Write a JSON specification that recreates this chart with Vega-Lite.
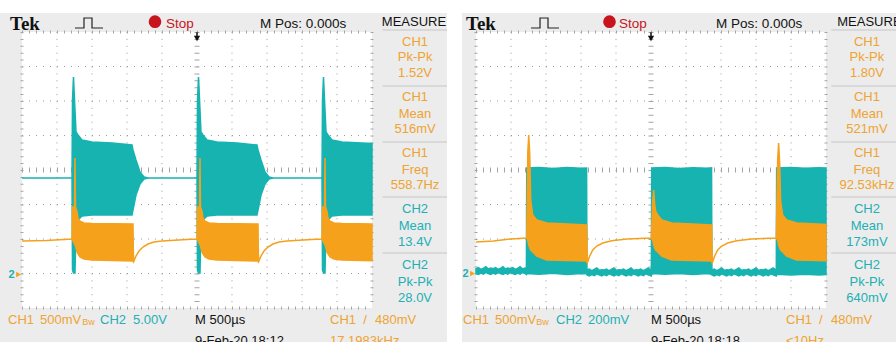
{
"$schema":"https://vega.github.io/schema/vega-lite/v6.json",
"width":896,"height":342,"padding":0,
"autosize":{"type":"fit","contains":"padding"},
"background":"#ffffff",
"config":{"view":{"stroke":null},"text":{"font":"Liberation Sans, Arial, sans-serif"}},
"datasets":{
"A":[
{"kind":"bg","x":-0.629,"x2":12.143,"y":4.551,"y2":-5.2},
{"kind":"plot","x":0,"x2":10,"y":4,"y2":-4},
{"kind":"vg","x":1,"y":4,"y2":-4},{"kind":"vg","x":2,"y":4,"y2":-4},{"kind":"vg","x":3,"y":4,"y2":-4},{"kind":"vg","x":4,"y":4,"y2":-4},{"kind":"vg","x":6,"y":4,"y2":-4},{"kind":"vg","x":7,"y":4,"y2":-4},{"kind":"vg","x":8,"y":4,"y2":-4},{"kind":"vg","x":9,"y":4,"y2":-4},
{"kind":"hg","x":0,"x2":10,"y":-3},{"kind":"hg","x":0,"x2":10,"y":-2},{"kind":"hg","x":0,"x2":10,"y":-1},{"kind":"hg","x":0,"x2":10,"y":1},{"kind":"hg","x":0,"x2":10,"y":2},{"kind":"hg","x":0,"x2":10,"y":3},
{"kind":"vc","x":5,"y":4,"y2":-4},{"kind":"hc","x":0,"x2":10,"y":0},
{"kind":"vb","x":0,"y":4,"y2":-4},{"kind":"vb","x":10,"y":4,"y2":-4},{"kind":"hb","x":0,"x2":10,"y":4},{"kind":"hb","x":0,"x2":10,"y":-4},
{"kind":"c2","x":0,"y":-0.232,"y2":-0.232},
{"kind":"c2","x":1.429,"y":-0.232,"y2":-0.232},
{"kind":"c2","x":1.443,"y":2.029,"y2":-2.899},
{"kind":"c2","x":1.471,"y":2.696,"y2":-2.986},
{"kind":"c2","x":1.514,"y":1.739,"y2":-2.986},
{"kind":"c2","x":1.543,"y":1.101,"y2":-1.594},
{"kind":"c2","x":1.6,"y":1.014,"y2":-1.449},
{"kind":"c2","x":1.714,"y":0.87,"y2":-1.333},
{"kind":"c2","x":2.0,"y":0.812,"y2":-1.304},
{"kind":"c2","x":2.571,"y":0.783,"y2":-1.304},
{"kind":"c2","x":3.143,"y":0.725,"y2":-1.304},
{"kind":"c2","x":3.171,"y":0.58,"y2":-1.159},
{"kind":"c2","x":3.257,"y":0.29,"y2":-0.725},
{"kind":"c2","x":3.371,"y":-0.058,"y2":-0.406},
{"kind":"c2","x":3.486,"y":-0.203,"y2":-0.261},
{"kind":"c2","x":3.6,"y":-0.232,"y2":-0.232},
{"kind":"c2","x":5.0,"y":-0.232,"y2":-0.232},
{"kind":"c2","x":5.014,"y":2.029,"y2":-2.899},
{"kind":"c2","x":5.043,"y":2.696,"y2":-2.986},
{"kind":"c2","x":5.086,"y":1.739,"y2":-2.986},
{"kind":"c2","x":5.114,"y":1.101,"y2":-1.594},
{"kind":"c2","x":5.171,"y":1.014,"y2":-1.449},
{"kind":"c2","x":5.286,"y":0.87,"y2":-1.333},
{"kind":"c2","x":5.571,"y":0.812,"y2":-1.304},
{"kind":"c2","x":6.143,"y":0.783,"y2":-1.304},
{"kind":"c2","x":6.714,"y":0.725,"y2":-1.304},
{"kind":"c2","x":6.743,"y":0.58,"y2":-1.159},
{"kind":"c2","x":6.829,"y":0.29,"y2":-0.725},
{"kind":"c2","x":6.943,"y":-0.058,"y2":-0.406},
{"kind":"c2","x":7.057,"y":-0.203,"y2":-0.261},
{"kind":"c2","x":7.171,"y":-0.232,"y2":-0.232},
{"kind":"c2","x":8.571,"y":-0.232,"y2":-0.232},
{"kind":"c2","x":8.586,"y":2.029,"y2":-2.899},
{"kind":"c2","x":8.614,"y":2.696,"y2":-2.986},
{"kind":"c2","x":8.657,"y":1.739,"y2":-2.986},
{"kind":"c2","x":8.686,"y":1.101,"y2":-1.594},
{"kind":"c2","x":8.743,"y":1.014,"y2":-1.449},
{"kind":"c2","x":8.857,"y":0.87,"y2":-1.333},
{"kind":"c2","x":9.143,"y":0.812,"y2":-1.304},
{"kind":"c2","x":9.714,"y":0.783,"y2":-1.304},
{"kind":"c2","x":10.0,"y":0.77,"y2":-1.304},
{"kind":"c1","x":0,"y":-2.058,"y2":-2.058},
{"kind":"c1","x":0.7,"y":-2.04,"y2":-2.04},
{"kind":"c1","x":1.429,"y":-2.0,"y2":-2.0},
{"kind":"c1","x":1.443,"y":-1.072,"y2":-2.029},
{"kind":"c1","x":1.5,"y":-1.072,"y2":-2.145},
{"kind":"c1","x":1.514,"y":0.348,"y2":-2.174},
{"kind":"c1","x":1.529,"y":-1.072,"y2":-2.2},
{"kind":"c1","x":1.571,"y":-1.2,"y2":-2.377},
{"kind":"c1","x":1.6,"y":-1.391,"y2":-2.43},
{"kind":"c1","x":1.657,"y":-1.48,"y2":-2.522},
{"kind":"c1","x":1.771,"y":-1.536,"y2":-2.58},
{"kind":"c1","x":2.0,"y":-1.55,"y2":-2.609},
{"kind":"c1","x":3.171,"y":-1.565,"y2":-2.638},
{"kind":"c1","x":3.186,"y":-2.638,"y2":-2.667},
{"kind":"c1","x":3.257,"y":-2.493,"y2":-2.493},
{"kind":"c1","x":3.343,"y":-2.348,"y2":-2.348},
{"kind":"c1","x":3.457,"y":-2.232,"y2":-2.232},
{"kind":"c1","x":3.6,"y":-2.145,"y2":-2.145},
{"kind":"c1","x":3.771,"y":-2.087,"y2":-2.087},
{"kind":"c1","x":4.0,"y":-2.058,"y2":-2.058},
{"kind":"c1","x":4.829,"y":-2.01,"y2":-2.01},
{"kind":"c1","x":5.0,"y":-2.0,"y2":-2.0},
{"kind":"c1","x":5.014,"y":-1.072,"y2":-2.029},
{"kind":"c1","x":5.071,"y":-1.072,"y2":-2.145},
{"kind":"c1","x":5.086,"y":0.348,"y2":-2.174},
{"kind":"c1","x":5.1,"y":-1.072,"y2":-2.2},
{"kind":"c1","x":5.143,"y":-1.2,"y2":-2.377},
{"kind":"c1","x":5.171,"y":-1.391,"y2":-2.43},
{"kind":"c1","x":5.229,"y":-1.48,"y2":-2.522},
{"kind":"c1","x":5.343,"y":-1.536,"y2":-2.58},
{"kind":"c1","x":5.571,"y":-1.55,"y2":-2.609},
{"kind":"c1","x":6.743,"y":-1.565,"y2":-2.638},
{"kind":"c1","x":6.757,"y":-2.638,"y2":-2.667},
{"kind":"c1","x":6.829,"y":-2.493,"y2":-2.493},
{"kind":"c1","x":6.914,"y":-2.348,"y2":-2.348},
{"kind":"c1","x":7.029,"y":-2.232,"y2":-2.232},
{"kind":"c1","x":7.171,"y":-2.145,"y2":-2.145},
{"kind":"c1","x":7.343,"y":-2.087,"y2":-2.087},
{"kind":"c1","x":7.571,"y":-2.058,"y2":-2.058},
{"kind":"c1","x":8.4,"y":-2.01,"y2":-2.01},
{"kind":"c1","x":8.571,"y":-2.0,"y2":-2.0},
{"kind":"c1","x":8.586,"y":-1.072,"y2":-2.029},
{"kind":"c1","x":8.643,"y":-1.072,"y2":-2.145},
{"kind":"c1","x":8.657,"y":0.348,"y2":-2.174},
{"kind":"c1","x":8.671,"y":-1.072,"y2":-2.2},
{"kind":"c1","x":8.714,"y":-1.2,"y2":-2.377},
{"kind":"c1","x":8.743,"y":-1.391,"y2":-2.43},
{"kind":"c1","x":8.8,"y":-1.48,"y2":-2.522},
{"kind":"c1","x":8.914,"y":-1.536,"y2":-2.58},
{"kind":"c1","x":9.143,"y":-1.55,"y2":-2.609},
{"kind":"c1","x":10.0,"y":-1.562,"y2":-2.63},
{"kind":"sep","x":10.3,"x2":12.143,"y":4.058},
{"kind":"sep","x":10.3,"x2":12.143,"y":2.435},
{"kind":"sep","x":10.3,"x2":12.143,"y":0.812},
{"kind":"sep","x":10.3,"x2":12.143,"y":-0.783},
{"kind":"sep","x":10.3,"x2":12.143,"y":-2.406},
{"kind":"icon","i":0,"x":1.514,"y":4.116},
{"kind":"icon","i":1,"x":1.771,"y":4.116},
{"kind":"icon","i":2,"x":1.771,"y":4.406},
{"kind":"icon","i":3,"x":2.0,"y":4.406},
{"kind":"icon","i":4,"x":2.0,"y":4.116},
{"kind":"icon","i":5,"x":2.314,"y":4.116},
{"kind":"dot","x":3.8,"y":4.299},
{"kind":"trig","x":5,"y":3.99,"y2":3.85},
{"kind":"trigh","x":5,"y":3.81},
{"kind":"lvl","x":9.93,"y":-2.06},
{"kind":"gnd1","x":-0.1,"y":-3.029},
{"kind":"gnd2","x":-0.3,"y":-3.029,"t":"2"},
{"kind":"tek","x":-0.343,"y":4.072,"t":"Tek"},
{"kind":"hdr","x":4.114,"y":4.116,"t":"Stop","ch":"stop"},
{"kind":"hdr","x":6.8,"y":4.116,"t":"M Pos: 0.000s","ch":"sys"},
{"kind":"meas","x":11.2,"y":4.304,"t":"MEASURE","ch":"sys"},
{"kind":"meas","x":11.23,"y":3.71,"t":"CH1","ch":"CH1"},
{"kind":"meas","x":11.23,"y":3.275,"t":"Pk-Pk","ch":"CH1"},
{"kind":"meas","x":11.23,"y":2.812,"t":"1.52V","ch":"CH1"},
{"kind":"meas","x":11.23,"y":2.116,"t":"CH1","ch":"CH1"},
{"kind":"meas","x":11.23,"y":1.623,"t":"Mean","ch":"CH1"},
{"kind":"meas","x":11.23,"y":1.188,"t":"516mV","ch":"CH1"},
{"kind":"meas","x":11.23,"y":0.493,"t":"CH1","ch":"CH1"},
{"kind":"meas","x":11.23,"y":0.0,"t":"Freq","ch":"CH1"},
{"kind":"meas","x":11.23,"y":-0.435,"t":"558.7Hz","ch":"CH1"},
{"kind":"meas","x":11.23,"y":-1.13,"t":"CH2","ch":"CH2"},
{"kind":"meas","x":11.23,"y":-1.623,"t":"Mean","ch":"CH2"},
{"kind":"meas","x":11.23,"y":-2.087,"t":"13.4V","ch":"CH2"},
{"kind":"meas","x":11.23,"y":-2.754,"t":"CH2","ch":"CH2"},
{"kind":"meas","x":11.23,"y":-3.246,"t":"Pk-Pk","ch":"CH2"},
{"kind":"meas","x":11.23,"y":-3.71,"t":"28.0V","ch":"CH2"},
{"kind":"ftr","x":-0.4,"y":-4.464,"t":"CH1","ch":"CH1"},
{"kind":"ftr","x":0.514,"y":-4.464,"t":"500mV","ch":"CH1"},
{"kind":"ftr","x":2.229,"y":-4.464,"t":"CH2","ch":"CH2"},
{"kind":"ftr","x":3.171,"y":-4.464,"t":"5.00V","ch":"CH2"},
{"kind":"ftr","x":4.943,"y":-4.464,"t":"M 500µs","ch":"sys"},
{"kind":"ftr","x":4.943,"y":-5.072,"t":"9-Feb-20 18:12","ch":"sys"},
{"kind":"ftr","x":8.8,"y":-4.464,"t":"CH1","ch":"CH1"},
{"kind":"ftr","x":9.75,"y":-4.464,"t":"/","ch":"CH1"},
{"kind":"ftr","x":10.086,"y":-4.464,"t":"480mV","ch":"CH1"},
{"kind":"ftr","x":8.8,"y":-5.072,"t":"17.1983kHz","ch":"CH1"},
{"kind":"small","x":1.72,"y":-4.5,"t":"Bw","ch":"CH1"}
],
"B":[
{"kind":"bg","x":-0.4,"x2":12.6,"y":4.551,"y2":-5.2},
{"kind":"plot","x":0,"x2":10,"y":4,"y2":-4},
{"kind":"vg","x":1,"y":4,"y2":-4},{"kind":"vg","x":2,"y":4,"y2":-4},{"kind":"vg","x":3,"y":4,"y2":-4},{"kind":"vg","x":4,"y":4,"y2":-4},{"kind":"vg","x":6,"y":4,"y2":-4},{"kind":"vg","x":7,"y":4,"y2":-4},{"kind":"vg","x":8,"y":4,"y2":-4},{"kind":"vg","x":9,"y":4,"y2":-4},
{"kind":"hg","x":0,"x2":10,"y":-3},{"kind":"hg","x":0,"x2":10,"y":-2},{"kind":"hg","x":0,"x2":10,"y":-1},{"kind":"hg","x":0,"x2":10,"y":1},{"kind":"hg","x":0,"x2":10,"y":2},{"kind":"hg","x":0,"x2":10,"y":3},
{"kind":"vc","x":5,"y":4,"y2":-4},{"kind":"hc","x":0,"x2":10,"y":0},
{"kind":"vb","x":0,"y":4,"y2":-4},{"kind":"vb","x":10,"y":4,"y2":-4},{"kind":"hb","x":0,"x2":10,"y":4},{"kind":"hb","x":0,"x2":10,"y":-4},
{"kind":"c2","x":0,"y":-2.86,"y2":-3.0},
{"kind":"c2","x":0.07,"y":-2.83,"y2":-3.03},
{"kind":"c2","x":0.14,"y":-2.88,"y2":-2.99},
{"kind":"c2","x":0.21,"y":-2.85,"y2":-3.02},
{"kind":"c2","x":0.28,"y":-2.8,"y2":-2.97},
{"kind":"c2","x":0.35,"y":-2.87,"y2":-3.0},
{"kind":"c2","x":0.42,"y":-2.84,"y2":-3.03},
{"kind":"c2","x":0.49,"y":-2.86,"y2":-2.99},
{"kind":"c2","x":0.56,"y":-2.83,"y2":-3.02},
{"kind":"c2","x":0.63,"y":-2.88,"y2":-2.97},
{"kind":"c2","x":0.7,"y":-2.85,"y2":-3.0},
{"kind":"c2","x":0.77,"y":-2.8,"y2":-3.03},
{"kind":"c2","x":0.84,"y":-2.87,"y2":-2.99},
{"kind":"c2","x":0.91,"y":-2.84,"y2":-3.02},
{"kind":"c2","x":0.98,"y":-2.86,"y2":-2.97},
{"kind":"c2","x":1.05,"y":-2.83,"y2":-3.0},
{"kind":"c2","x":1.12,"y":-2.88,"y2":-3.03},
{"kind":"c2","x":1.19,"y":-2.85,"y2":-2.99},
{"kind":"c2","x":1.26,"y":-2.8,"y2":-3.02},
{"kind":"c2","x":1.33,"y":-2.87,"y2":-2.97},
{"kind":"c2","x":1.4,"y":-2.84,"y2":-3.0},
{"kind":"c2","x":1.44,"y":-2.86,"y2":-3.03},
{"kind":"c2","x":1.45,"y":0.058,"y2":-3.0},
{"kind":"c2","x":1.8,"y":0.07,"y2":-3.02},
{"kind":"c2","x":2.2,"y":0.04,"y2":-2.99},
{"kind":"c2","x":2.6,"y":0.07,"y2":-3.03},
{"kind":"c2","x":3.0,"y":0.05,"y2":-3.0},
{"kind":"c2","x":3.16,"y":0.06,"y2":-3.01},
{"kind":"c2","x":3.17,"y":-2.9,"y2":-3.04},
{"kind":"c2","x":3.24,"y":-2.87,"y2":-3.07},
{"kind":"c2","x":3.31,"y":-2.92,"y2":-3.03},
{"kind":"c2","x":3.38,"y":-2.88,"y2":-3.06},
{"kind":"c2","x":3.45,"y":-2.84,"y2":-3.01},
{"kind":"c2","x":3.52,"y":-2.91,"y2":-3.04},
{"kind":"c2","x":3.59,"y":-2.89,"y2":-3.07},
{"kind":"c2","x":3.66,"y":-2.9,"y2":-3.03},
{"kind":"c2","x":3.73,"y":-2.87,"y2":-3.06},
{"kind":"c2","x":3.8,"y":-2.92,"y2":-3.01},
{"kind":"c2","x":3.87,"y":-2.88,"y2":-3.04},
{"kind":"c2","x":3.94,"y":-2.84,"y2":-3.07},
{"kind":"c2","x":4.01,"y":-2.91,"y2":-3.03},
{"kind":"c2","x":4.08,"y":-2.89,"y2":-3.06},
{"kind":"c2","x":4.15,"y":-2.9,"y2":-3.01},
{"kind":"c2","x":4.22,"y":-2.87,"y2":-3.04},
{"kind":"c2","x":4.29,"y":-2.92,"y2":-3.07},
{"kind":"c2","x":4.36,"y":-2.88,"y2":-3.03},
{"kind":"c2","x":4.43,"y":-2.84,"y2":-3.06},
{"kind":"c2","x":4.5,"y":-2.91,"y2":-3.01},
{"kind":"c2","x":4.57,"y":-2.89,"y2":-3.04},
{"kind":"c2","x":4.64,"y":-2.9,"y2":-3.07},
{"kind":"c2","x":4.71,"y":-2.87,"y2":-3.03},
{"kind":"c2","x":4.78,"y":-2.92,"y2":-3.06},
{"kind":"c2","x":4.85,"y":-2.88,"y2":-3.01},
{"kind":"c2","x":4.92,"y":-2.84,"y2":-3.04},
{"kind":"c2","x":5.01,"y":-2.91,"y2":-3.07},
{"kind":"c2","x":5.02,"y":0.058,"y2":-3.0},
{"kind":"c2","x":5.4,"y":0.07,"y2":-3.02},
{"kind":"c2","x":5.8,"y":0.045,"y2":-3.0},
{"kind":"c2","x":6.2,"y":0.065,"y2":-3.03},
{"kind":"c2","x":6.6,"y":0.05,"y2":-3.0},
{"kind":"c2","x":6.73,"y":0.06,"y2":-3.02},
{"kind":"c2","x":6.74,"y":-2.9,"y2":-3.04},
{"kind":"c2","x":6.81,"y":-2.87,"y2":-3.07},
{"kind":"c2","x":6.88,"y":-2.92,"y2":-3.03},
{"kind":"c2","x":6.95,"y":-2.88,"y2":-3.06},
{"kind":"c2","x":7.02,"y":-2.84,"y2":-3.01},
{"kind":"c2","x":7.09,"y":-2.91,"y2":-3.04},
{"kind":"c2","x":7.16,"y":-2.89,"y2":-3.07},
{"kind":"c2","x":7.23,"y":-2.9,"y2":-3.03},
{"kind":"c2","x":7.3,"y":-2.87,"y2":-3.06},
{"kind":"c2","x":7.37,"y":-2.92,"y2":-3.01},
{"kind":"c2","x":7.44,"y":-2.88,"y2":-3.04},
{"kind":"c2","x":7.51,"y":-2.84,"y2":-3.07},
{"kind":"c2","x":7.58,"y":-2.91,"y2":-3.03},
{"kind":"c2","x":7.65,"y":-2.89,"y2":-3.06},
{"kind":"c2","x":7.72,"y":-2.9,"y2":-3.01},
{"kind":"c2","x":7.79,"y":-2.87,"y2":-3.04},
{"kind":"c2","x":7.86,"y":-2.92,"y2":-3.07},
{"kind":"c2","x":7.93,"y":-2.88,"y2":-3.03},
{"kind":"c2","x":8.0,"y":-2.84,"y2":-3.06},
{"kind":"c2","x":8.07,"y":-2.91,"y2":-3.01},
{"kind":"c2","x":8.14,"y":-2.89,"y2":-3.04},
{"kind":"c2","x":8.21,"y":-2.9,"y2":-3.07},
{"kind":"c2","x":8.28,"y":-2.87,"y2":-3.03},
{"kind":"c2","x":8.35,"y":-2.92,"y2":-3.06},
{"kind":"c2","x":8.42,"y":-2.88,"y2":-3.01},
{"kind":"c2","x":8.49,"y":-2.84,"y2":-3.04},
{"kind":"c2","x":8.58,"y":-2.91,"y2":-3.07},
{"kind":"c2","x":8.59,"y":0.058,"y2":-3.02},
{"kind":"c2","x":9.0,"y":0.07,"y2":-3.04},
{"kind":"c2","x":9.4,"y":0.05,"y2":-3.02},
{"kind":"c2","x":9.8,"y":0.065,"y2":-3.04},
{"kind":"c2","x":10.0,"y":0.06,"y2":-3.03},
{"kind":"c1","x":0,"y":-2.087,"y2":-2.087},
{"kind":"c1","x":0.5,"y":-2.06,"y2":-2.06},
{"kind":"c1","x":1.0,"y":-2.0,"y2":-2.0},
{"kind":"c1","x":1.45,"y":-1.97,"y2":-1.97},
{"kind":"c1","x":1.479,"y":0.493,"y2":-2.029},
{"kind":"c1","x":1.507,"y":1.014,"y2":-2.174},
{"kind":"c1","x":1.536,"y":0.435,"y2":-2.261},
{"kind":"c1","x":1.564,"y":-0.9,"y2":-2.32},
{"kind":"c1","x":1.621,"y":-1.304,"y2":-2.377},
{"kind":"c1","x":1.736,"y":-1.449,"y2":-2.493},
{"kind":"c1","x":2.021,"y":-1.536,"y2":-2.609},
{"kind":"c1","x":3.164,"y":-1.594,"y2":-2.638},
{"kind":"c1","x":3.179,"y":-2.667,"y2":-2.696},
{"kind":"c1","x":3.25,"y":-2.493,"y2":-2.493},
{"kind":"c1","x":3.336,"y":-2.319,"y2":-2.319},
{"kind":"c1","x":3.45,"y":-2.203,"y2":-2.203},
{"kind":"c1","x":3.621,"y":-2.116,"y2":-2.116},
{"kind":"c1","x":3.879,"y":-2.05,"y2":-2.05},
{"kind":"c1","x":4.307,"y":-2.0,"y2":-2.0},
{"kind":"c1","x":5.01,"y":-1.97,"y2":-1.97},
{"kind":"c1","x":5.049,"y":-0.9,"y2":-2.03},
{"kind":"c1","x":5.077,"y":-0.58,"y2":-2.174},
{"kind":"c1","x":5.106,"y":-1.0,"y2":-2.261},
{"kind":"c1","x":5.134,"y":-1.2,"y2":-2.32},
{"kind":"c1","x":5.191,"y":-1.304,"y2":-2.377},
{"kind":"c1","x":5.306,"y":-1.449,"y2":-2.493},
{"kind":"c1","x":5.591,"y":-1.536,"y2":-2.609},
{"kind":"c1","x":6.734,"y":-1.594,"y2":-2.638},
{"kind":"c1","x":6.749,"y":-2.667,"y2":-2.696},
{"kind":"c1","x":6.82,"y":-2.493,"y2":-2.493},
{"kind":"c1","x":6.906,"y":-2.319,"y2":-2.319},
{"kind":"c1","x":7.02,"y":-2.203,"y2":-2.203},
{"kind":"c1","x":7.191,"y":-2.116,"y2":-2.116},
{"kind":"c1","x":7.449,"y":-2.05,"y2":-2.05},
{"kind":"c1","x":7.877,"y":-2.0,"y2":-2.0},
{"kind":"c1","x":8.58,"y":-1.97,"y2":-1.97},
{"kind":"c1","x":8.619,"y":0.3,"y2":-2.03},
{"kind":"c1","x":8.647,"y":0.783,"y2":-2.174},
{"kind":"c1","x":8.676,"y":0.2,"y2":-2.261},
{"kind":"c1","x":8.704,"y":-0.9,"y2":-2.32},
{"kind":"c1","x":8.761,"y":-1.304,"y2":-2.377},
{"kind":"c1","x":8.876,"y":-1.449,"y2":-2.493},
{"kind":"c1","x":9.161,"y":-1.536,"y2":-2.609},
{"kind":"c1","x":10.0,"y":-1.58,"y2":-2.63},
{"kind":"sep","x":10.15,"x2":12.6,"y":4.058},
{"kind":"sep","x":10.15,"x2":12.6,"y":2.435},
{"kind":"sep","x":10.15,"x2":12.6,"y":0.812},
{"kind":"sep","x":10.15,"x2":12.6,"y":-0.783},
{"kind":"sep","x":10.15,"x2":12.6,"y":-2.406},
{"kind":"icon","i":0,"x":1.571,"y":4.116},
{"kind":"icon","i":1,"x":1.829,"y":4.116},
{"kind":"icon","i":2,"x":1.829,"y":4.406},
{"kind":"icon","i":3,"x":2.057,"y":4.406},
{"kind":"icon","i":4,"x":2.057,"y":4.116},
{"kind":"icon","i":5,"x":2.371,"y":4.116},
{"kind":"dot","x":3.814,"y":4.299},
{"kind":"trig","x":5,"y":3.99,"y2":3.85},
{"kind":"trigh","x":5,"y":3.81},
{"kind":"gnd1","x":-0.1,"y":-3.0},
{"kind":"gnd2","x":-0.3,"y":-3.0,"t":"2"},
{"kind":"tek","x":-0.286,"y":4.072,"t":"Tek"},
{"kind":"hdr","x":4.086,"y":4.116,"t":"Stop","ch":"stop"},
{"kind":"hdr","x":6.857,"y":4.116,"t":"M Pos: 0.000s","ch":"sys"},
{"kind":"meas","x":11.24,"y":4.304,"t":"MEASURE","ch":"sys"},
{"kind":"meas","x":11.17,"y":3.71,"t":"CH1","ch":"CH1"},
{"kind":"meas","x":11.17,"y":3.275,"t":"Pk-Pk","ch":"CH1"},
{"kind":"meas","x":11.17,"y":2.812,"t":"1.80V","ch":"CH1"},
{"kind":"meas","x":11.17,"y":2.116,"t":"CH1","ch":"CH1"},
{"kind":"meas","x":11.17,"y":1.623,"t":"Mean","ch":"CH1"},
{"kind":"meas","x":11.17,"y":1.188,"t":"521mV","ch":"CH1"},
{"kind":"meas","x":11.17,"y":0.493,"t":"CH1","ch":"CH1"},
{"kind":"meas","x":11.17,"y":0.0,"t":"Freq","ch":"CH1"},
{"kind":"meas","x":11.17,"y":-0.435,"t":"92.53kHz","ch":"CH1"},
{"kind":"meas","x":11.17,"y":-1.13,"t":"CH2","ch":"CH2"},
{"kind":"meas","x":11.17,"y":-1.623,"t":"Mean","ch":"CH2"},
{"kind":"meas","x":11.17,"y":-2.087,"t":"173mV","ch":"CH2"},
{"kind":"meas","x":11.17,"y":-2.754,"t":"CH2","ch":"CH2"},
{"kind":"meas","x":11.17,"y":-3.246,"t":"Pk-Pk","ch":"CH2"},
{"kind":"meas","x":11.17,"y":-3.71,"t":"640mV","ch":"CH2"},
{"kind":"ftr","x":-0.371,"y":-4.464,"t":"CH1","ch":"CH1"},
{"kind":"ftr","x":0.543,"y":-4.464,"t":"500mV","ch":"CH1"},
{"kind":"ftr","x":2.286,"y":-4.464,"t":"CH2","ch":"CH2"},
{"kind":"ftr","x":3.2,"y":-4.464,"t":"200mV","ch":"CH2"},
{"kind":"ftr","x":5.0,"y":-4.464,"t":"M 500µs","ch":"sys"},
{"kind":"ftr","x":5.0,"y":-5.072,"t":"9-Feb-20 18:18","ch":"sys"},
{"kind":"ftr","x":8.857,"y":-4.464,"t":"CH1","ch":"CH1"},
{"kind":"ftr","x":9.8,"y":-4.464,"t":"/","ch":"CH1"},
{"kind":"ftr","x":10.143,"y":-4.464,"t":"480mV","ch":"CH1"},
{"kind":"ftr","x":8.857,"y":-5.072,"t":"<10Hz","ch":"CH1"},
{"kind":"small","x":1.72,"y":-4.5,"t":"Bw","ch":"CH1"}
]
},
"resolve":{"scale":{"x":"independent"}},
"layer":[
{"data":{"name":"A"},
"encoding":{"x":{"field":"x","type":"quantitative","scale":{"domain":[-0.628571,24.971429],"nice":false,"zero":false},"axis":null},
"y":{"field":"y","type":"quantitative","scale":{"domain":[-4.985507,4.927536],"nice":false,"zero":false},"axis":null}},
"layer":[
{"transform":[{"filter":"datum.kind==='bg'"}],"mark":{"type":"rect","color":"#ececec","clip":true},"encoding":{"x2":{"field":"x2"},"y2":{"field":"y2"}}},
{"transform":[{"filter":"datum.kind==='plot'"}],"mark":{"type":"rect","color":"#ffffff","clip":true},"encoding":{"x2":{"field":"x2"},"y2":{"field":"y2"}}},
{"transform":[{"filter":"datum.kind==='vg'"}],"mark":{"type":"rule","color":"#999999","strokeWidth":1,"strokeDash":[1,5.9],"clip":true},"encoding":{"y2":{"field":"y2"}}},
{"transform":[{"filter":"datum.kind==='hg'"}],"mark":{"type":"rule","color":"#999999","strokeWidth":1,"strokeDash":[1,6],"clip":true},"encoding":{"x2":{"field":"x2"}}},
{"transform":[{"filter":"datum.kind==='vc'"}],"mark":{"type":"rule","color":"#a4a4a4","strokeWidth":5,"strokeDash":[1,5.9],"clip":true},"encoding":{"y2":{"field":"y2"}}},
{"transform":[{"filter":"datum.kind==='hc'"}],"mark":{"type":"rule","color":"#a4a4a4","strokeWidth":5,"strokeDash":[1,6],"clip":true},"encoding":{"x2":{"field":"x2"}}},
{"transform":[{"filter":"datum.kind==='vb'"}],"mark":{"type":"rule","color":"#a4a4a4","strokeWidth":3,"strokeDash":[1,5.9],"clip":true},"encoding":{"y2":{"field":"y2"}}},
{"transform":[{"filter":"datum.kind==='hb'"}],"mark":{"type":"rule","color":"#a4a4a4","strokeWidth":3,"strokeDash":[1,6],"clip":true},"encoding":{"x2":{"field":"x2"}}},
{"transform":[{"filter":"datum.kind==='c2'"}],"mark":{"type":"area","color":"#17b3b1","stroke":"#17b3b1","strokeWidth":1.5,"opacity":1,"clip":true},"encoding":{"y2":{"field":"y2"}}},
{"transform":[{"filter":"datum.kind==='c1'"}],"mark":{"type":"area","color":"#f6a11c","stroke":"#f6a11c","strokeWidth":1.5,"opacity":1,"clip":true},"encoding":{"y2":{"field":"y2"}}},
{"transform":[{"filter":"datum.kind==='sep'"}],"mark":{"type":"rule","color":"#c6c6c6","strokeWidth":1,"clip":true},"encoding":{"x2":{"field":"x2"}}},
{"transform":[{"filter":"datum.kind==='icon'"}],"mark":{"type":"line","color":"#222222","strokeWidth":1.2,"clip":true},"encoding":{"order":{"field":"i","type":"quantitative"}}},
{"transform":[{"filter":"datum.kind==='dot'"}],"mark":{"type":"point","shape":"circle","filled":true,"size":160,"color":"#c8141c","opacity":1,"clip":true}},
{"transform":[{"filter":"datum.kind==='trig'"}],"mark":{"type":"rule","color":"#111111","strokeWidth":1.5,"clip":true},"encoding":{"y2":{"field":"y2"}}},
{"transform":[{"filter":"datum.kind==='trigh'"}],"mark":{"type":"point","shape":"triangle-down","filled":true,"size":40,"color":"#111111","opacity":1,"clip":true}},
{"transform":[{"filter":"datum.kind==='lvl'"}],"mark":{"type":"point","shape":"triangle-left","filled":true,"size":40,"color":"#f6a11c","opacity":1,"clip":true}},
{"transform":[{"filter":"datum.kind==='gnd1'"}],"mark":{"type":"point","shape":"triangle-right","filled":true,"size":30,"color":"#f6a11c","opacity":1,"clip":true}},
{"transform":[{"filter":"datum.kind==='gnd2'"}],"mark":{"type":"text","fontSize":11,"fontWeight":"bold","color":"#20b0b4","align":"center","baseline":"middle","clip":true},"encoding":{"text":{"field":"t"}}},
{"transform":[{"filter":"datum.kind==='tek'"}],"mark":{"type":"text","font":"Liberation Serif","fontWeight":"bold","fontSize":19,"color":"#111111","align":"left","baseline":"alphabetic","clip":true},"encoding":{"text":{"field":"t"}}},
{"transform":[{"filter":"datum.kind==='hdr'"}],"mark":{"type":"text","fontSize":13.5,"align":"left","baseline":"alphabetic","clip":true},"encoding":{"text":{"field":"t"},"color":{"field":"ch","type":"nominal","scale":{"domain":["CH1","CH2","sys","stop"],"range":["#efa331","#22b0b5","#111111","#c8141c"]},"legend":null}}},
{"transform":[{"filter":"datum.kind==='meas'"}],"mark":{"type":"text","fontSize":13,"align":"center","baseline":"middle","clip":true},"encoding":{"text":{"field":"t"},"color":{"field":"ch","type":"nominal","scale":{"domain":["CH1","CH2","sys","stop"],"range":["#efa331","#22b0b5","#111111","#c8141c"]},"legend":null}}},
{"transform":[{"filter":"datum.kind==='ftr'"}],"mark":{"type":"text","fontSize":13,"align":"left","baseline":"alphabetic","clip":true},"encoding":{"text":{"field":"t"},"color":{"field":"ch","type":"nominal","scale":{"domain":["CH1","CH2","sys","stop"],"range":["#efa331","#22b0b5","#111111","#c8141c"]},"legend":null}}},
{"transform":[{"filter":"datum.kind==='small'"}],"mark":{"type":"text","fontSize":9,"align":"left","baseline":"alphabetic","clip":true},"encoding":{"text":{"field":"t"},"color":{"field":"ch","type":"nominal","scale":{"domain":["CH1","CH2","sys","stop"],"range":["#efa331","#22b0b5","#111111","#c8141c"]},"legend":null}}}
]},
{"data":{"name":"B"},
"encoding":{"x":{"field":"x","type":"quantitative","scale":{"domain":[-13.6,12.0],"nice":false,"zero":false},"axis":null},
"y":{"field":"y","type":"quantitative","scale":{"domain":[-4.985507,4.927536],"nice":false,"zero":false},"axis":null}},
"layer":[
{"transform":[{"filter":"datum.kind==='bg'"}],"mark":{"type":"rect","color":"#ececec","clip":true},"encoding":{"x2":{"field":"x2"},"y2":{"field":"y2"}}},
{"transform":[{"filter":"datum.kind==='plot'"}],"mark":{"type":"rect","color":"#ffffff","clip":true},"encoding":{"x2":{"field":"x2"},"y2":{"field":"y2"}}},
{"transform":[{"filter":"datum.kind==='vg'"}],"mark":{"type":"rule","color":"#999999","strokeWidth":1,"strokeDash":[1,5.9],"clip":true},"encoding":{"y2":{"field":"y2"}}},
{"transform":[{"filter":"datum.kind==='hg'"}],"mark":{"type":"rule","color":"#999999","strokeWidth":1,"strokeDash":[1,6],"clip":true},"encoding":{"x2":{"field":"x2"}}},
{"transform":[{"filter":"datum.kind==='vc'"}],"mark":{"type":"rule","color":"#a4a4a4","strokeWidth":5,"strokeDash":[1,5.9],"clip":true},"encoding":{"y2":{"field":"y2"}}},
{"transform":[{"filter":"datum.kind==='hc'"}],"mark":{"type":"rule","color":"#a4a4a4","strokeWidth":5,"strokeDash":[1,6],"clip":true},"encoding":{"x2":{"field":"x2"}}},
{"transform":[{"filter":"datum.kind==='vb'"}],"mark":{"type":"rule","color":"#a4a4a4","strokeWidth":3,"strokeDash":[1,5.9],"clip":true},"encoding":{"y2":{"field":"y2"}}},
{"transform":[{"filter":"datum.kind==='hb'"}],"mark":{"type":"rule","color":"#a4a4a4","strokeWidth":3,"strokeDash":[1,6],"clip":true},"encoding":{"x2":{"field":"x2"}}},
{"transform":[{"filter":"datum.kind==='c2'"}],"mark":{"type":"area","color":"#17b3b1","stroke":"#17b3b1","strokeWidth":1.5,"opacity":1,"clip":true},"encoding":{"y2":{"field":"y2"}}},
{"transform":[{"filter":"datum.kind==='c1'"}],"mark":{"type":"area","color":"#f6a11c","stroke":"#f6a11c","strokeWidth":1.5,"opacity":1,"clip":true},"encoding":{"y2":{"field":"y2"}}},
{"transform":[{"filter":"datum.kind==='sep'"}],"mark":{"type":"rule","color":"#c6c6c6","strokeWidth":1,"clip":true},"encoding":{"x2":{"field":"x2"}}},
{"transform":[{"filter":"datum.kind==='icon'"}],"mark":{"type":"line","color":"#222222","strokeWidth":1.2,"clip":true},"encoding":{"order":{"field":"i","type":"quantitative"}}},
{"transform":[{"filter":"datum.kind==='dot'"}],"mark":{"type":"point","shape":"circle","filled":true,"size":160,"color":"#c8141c","opacity":1,"clip":true}},
{"transform":[{"filter":"datum.kind==='trig'"}],"mark":{"type":"rule","color":"#111111","strokeWidth":1.5,"clip":true},"encoding":{"y2":{"field":"y2"}}},
{"transform":[{"filter":"datum.kind==='trigh'"}],"mark":{"type":"point","shape":"triangle-down","filled":true,"size":40,"color":"#111111","opacity":1,"clip":true}},
{"transform":[{"filter":"datum.kind==='gnd1'"}],"mark":{"type":"point","shape":"triangle-right","filled":true,"size":30,"color":"#f6a11c","opacity":1,"clip":true}},
{"transform":[{"filter":"datum.kind==='gnd2'"}],"mark":{"type":"text","fontSize":11,"fontWeight":"bold","color":"#20b0b4","align":"center","baseline":"middle","clip":true},"encoding":{"text":{"field":"t"}}},
{"transform":[{"filter":"datum.kind==='tek'"}],"mark":{"type":"text","font":"Liberation Serif","fontWeight":"bold","fontSize":19,"color":"#111111","align":"left","baseline":"alphabetic","clip":true},"encoding":{"text":{"field":"t"}}},
{"transform":[{"filter":"datum.kind==='hdr'"}],"mark":{"type":"text","fontSize":13.5,"align":"left","baseline":"alphabetic","clip":true},"encoding":{"text":{"field":"t"},"color":{"field":"ch","type":"nominal","scale":{"domain":["CH1","CH2","sys","stop"],"range":["#efa331","#22b0b5","#111111","#c8141c"]},"legend":null}}},
{"transform":[{"filter":"datum.kind==='meas'"}],"mark":{"type":"text","fontSize":13,"align":"center","baseline":"middle","clip":true},"encoding":{"text":{"field":"t"},"color":{"field":"ch","type":"nominal","scale":{"domain":["CH1","CH2","sys","stop"],"range":["#efa331","#22b0b5","#111111","#c8141c"]},"legend":null}}},
{"transform":[{"filter":"datum.kind==='ftr'"}],"mark":{"type":"text","fontSize":13,"align":"left","baseline":"alphabetic","clip":true},"encoding":{"text":{"field":"t"},"color":{"field":"ch","type":"nominal","scale":{"domain":["CH1","CH2","sys","stop"],"range":["#efa331","#22b0b5","#111111","#c8141c"]},"legend":null}}},
{"transform":[{"filter":"datum.kind==='small'"}],"mark":{"type":"text","fontSize":9,"align":"left","baseline":"alphabetic","clip":true},"encoding":{"text":{"field":"t"},"color":{"field":"ch","type":"nominal","scale":{"domain":["CH1","CH2","sys","stop"],"range":["#efa331","#22b0b5","#111111","#c8141c"]},"legend":null}}}
]}
]
}
